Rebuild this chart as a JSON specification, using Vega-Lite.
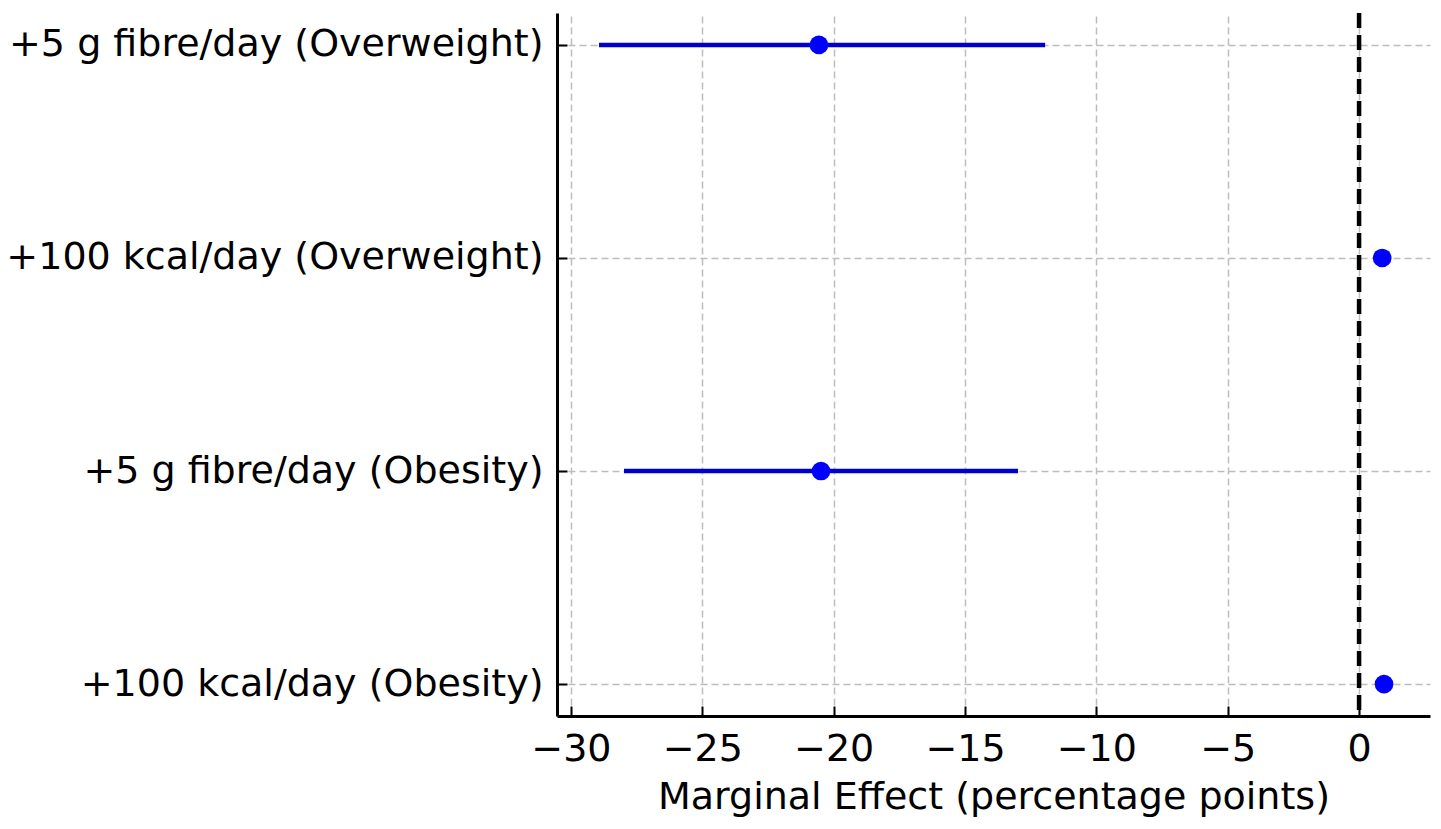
{
  "$schema": "https://vega.github.io/schema/vega-lite/v6.json",
  "width": 873,
  "height": 703,
  "autosize": {"type": "none"},
  "padding": {"left": 557, "top": 13, "right": 11, "bottom": 113},
  "background": "white",
  "config": {
    "view": {"stroke": null},
    "font": "DejaVu Sans",
    "axis": {
      "labelFont": "DejaVu Sans",
      "titleFont": "DejaVu Sans",
      "labelColor": "black",
      "titleColor": "black",
      "domainColor": "black",
      "tickColor": "black",
      "labelFontSize": 38,
      "titleFontSize": 38,
      "titleFontWeight": "normal",
      "labelLimit": 0,
      "domainWidth": 3,
      "tickWidth": 2,
      "gridColor": "#bdbdbd",
      "gridDash": [7, 4],
      "gridWidth": 1.5
    }
  },
  "data": {
    "values": [
      {"term": "+5 g fibre/day (Overweight)", "est": -20.56, "lo": -28.93, "hi": -11.95},
      {"term": "+100 kcal/day (Overweight)", "est": 0.88, "lo": 0.88, "hi": 0.88},
      {"term": "+5 g fibre/day (Obesity)", "est": -20.48, "lo": -27.98, "hi": -12.98},
      {"term": "+100 kcal/day (Obesity)", "est": 0.95, "lo": 0.95, "hi": 0.95}
    ]
  },
  "encoding": {
    "y": {
      "field": "term",
      "type": "nominal",
      "sort": null,
      "scale": {"type": "point", "padding": 0.15},
      "axis": {"title": null, "grid": true, "tickSize": -10, "labelPadding": 24, "ticks": true}
    }
  },
  "layer": [
    {
      "mark": {"type": "rule", "color": "black", "strokeWidth": 4.5, "strokeDash": [15, 7]},
      "data": {"values": [{"z": 0}]},
      "encoding": {
        "x": {"field": "z", "type": "quantitative"},
        "y": null
      }
    },
    {
      "mark": {"type": "rule", "color": "#0000cc", "strokeWidth": 4.5},
      "encoding": {
        "x": {
          "field": "lo",
          "type": "quantitative",
          "scale": {"domain": [-30.53, 2.7], "nice": false, "zero": false},
          "axis": {
            "title": "Marginal Effect (percentage points)",
            "values": [-30, -25, -20, -15, -10, -5, 0],
            "grid": true,
            "tickSize": -10,
            "labelPadding": 24,
            "titlePadding": 10
          }
        },
        "x2": {"field": "hi"}
      }
    },
    {
      "mark": {"type": "point", "filled": true, "color": "#0000ff", "size": 350, "opacity": 1},
      "encoding": {
        "x": {"field": "est", "type": "quantitative"}
      }
    }
  ]
}
